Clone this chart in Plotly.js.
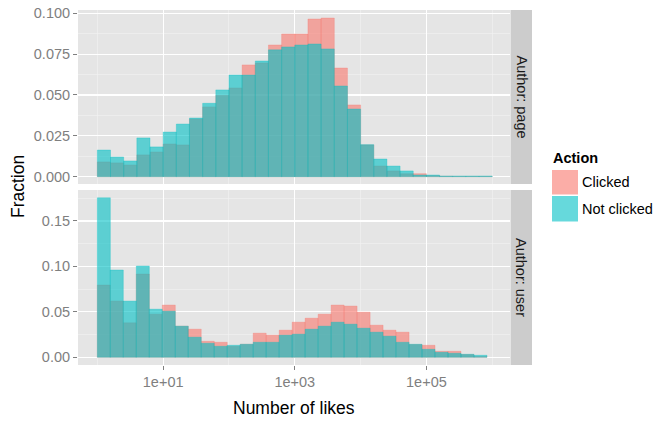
<!DOCTYPE html>
<html>
<head>
<meta charset="utf-8">
<script src="https://cdn.plot.ly/plotly-3.0.1.min.js"></script>
<style>html,body{margin:0;padding:0;background:#fff;}#chart{width:665px;height:421px;}</style>
</head>
<body>
<div id="chart"></div>
<script>
// Bin lower edges, in log10(number of likes)
const pageBins = [0.0,0.2,0.4,0.6,0.8,1.0,1.2,1.4,1.6,1.8,2.0,2.2,2.4,2.6,2.8,3.0,3.2,3.4,3.6,3.8,4.0,4.2,4.4,4.6,4.8,5.0,5.2,5.4,5.6,5.8];
const userBins = [0.000,0.197,0.395,0.592,0.789,0.987,1.184,1.381,1.579,1.776,1.973,2.171,2.368,2.565,2.763,2.960,3.157,3.355,3.552,3.749,3.947,4.144,4.341,4.539,4.736,4.933,5.131,5.328,5.525,5.723];

// Fractions per bin
const pageClicked = [0.0090,0.0084,0.0071,0.0133,0.0151,0.0200,0.0194,0.0353,0.0427,0.0498,0.0543,0.0684,0.0696,0.0806,0.0873,0.0873,0.0965,0.0971,0.0665,0.0439,0.0194,0.0065,0.0035,0.0018,0.0018,0.0006,0.0002,0.0001,0.0001,0.0001];
const pageNotClicked = [0.0163,0.0120,0.0096,0.0237,0.0182,0.0273,0.0322,0.0359,0.0449,0.0531,0.0622,0.0622,0.0708,0.0776,0.0794,0.0806,0.0812,0.0782,0.0555,0.0414,0.0196,0.0108,0.0065,0.0035,0.0010,0.0010,0.0004,0.0004,0.0004,0.0004];
const userClicked = [0.0794,0.0618,0.0379,0.0915,0.0474,0.0574,0.0342,0.0309,0.0176,0.0165,0.0121,0.0143,0.0265,0.0243,0.0298,0.0386,0.0430,0.0474,0.0574,0.0563,0.0496,0.0353,0.0298,0.0276,0.0140,0.0132,0.0066,0.0066,0.0030,0.0007];
const userNotClicked = [0.1754,0.0960,0.0618,0.1004,0.0529,0.0507,0.0342,0.0221,0.0154,0.0121,0.0132,0.0143,0.0165,0.0165,0.0243,0.0254,0.0309,0.0342,0.0386,0.0364,0.0320,0.0276,0.0232,0.0165,0.0143,0.0088,0.0055,0.0044,0.0033,0.0022];

const xTickVals = [1, 3, 5];
const xTickText = ['1e+01', '1e+03', '1e+05'];
const actions = ['Clicked', 'Not clicked'];
const facets = ['Author: page', 'Author: user'];

const RED = 'rgba(248,118,109,0.6)';
const TEAL = 'rgba(0,191,196,0.6)';
const FONT = 'Liberation Sans, Arial, Helvetica, sans-serif';

// pixel -> paper helpers (plot area: x 78..510, y 10..365)
const L = 78, R = 510, T = 10, B = 365;
const px = v => (v - L) / (R - L);
const py = v => (B - v) / (B - T);

function barTrace(bins, vals, w, color, xa, ya, name) {
  return {
    type: 'bar', x: bins, y: vals, width: w, offset: 0,
    xaxis: xa, yaxis: ya, name: name, showlegend: false,
    marker: {color: color, line: {width: 0.5, color: color}},
    hoverinfo: 'skip'
  };
}

const data = [
  barTrace(pageBins, pageClicked, 0.2, RED, 'x', 'y', actions[0]),
  barTrace(pageBins, pageNotClicked, 0.2, TEAL, 'x', 'y', actions[1]),
  barTrace(userBins, userClicked, 0.1973, RED, 'x2', 'y2', actions[0]),
  barTrace(userBins, userNotClicked, 0.1973, TEAL, 'x2', 'y2', actions[1])
];

const xRange = [-0.294, 6.27];
const gridCommon = {showgrid: true, gridcolor: '#FFFFFF', gridwidth: 1.2, zeroline: false, showline: false};
const tickFont = {family: FONT, size: 14.5, color: '#7F7F7F'};

const topDomain = [py(184), 1];
const botDomain = [0, py(190)];

const layout = {
  width: 665, height: 421,
  margin: {l: L, r: 665 - R, t: T, b: 421 - B, pad: 0},
  paper_bgcolor: '#FFFFFF', plot_bgcolor: '#E5E5E5',
  barmode: 'overlay', bargap: 0,
  font: {family: FONT},
  showlegend: false,
  xaxis: Object.assign({}, gridCommon, {
    domain: [0, 1], anchor: 'y', range: xRange,
    tickmode: 'array', tickvals: xTickVals, ticktext: xTickText,
    showticklabels: false, ticks: '',
    minor: {tickmode: 'array', tickvals: [0, 2, 4, 6], showgrid: true, gridcolor: '#F2F2F2', gridwidth: 0.6, ticks: ''}
  }),
  xaxis2: Object.assign({}, gridCommon, {
    domain: [0, 1], anchor: 'y2', range: xRange,
    tickmode: 'array', tickvals: xTickVals, ticktext: xTickText,
    ticks: 'outside', ticklen: 4, tickwidth: 1, tickcolor: '#7F7F7F', tickfont: tickFont,
    minor: {tickmode: 'array', tickvals: [0, 2, 4, 6], showgrid: true, gridcolor: '#F2F2F2', gridwidth: 0.6, ticks: ''}
  }),
  yaxis: Object.assign({}, gridCommon, {
    domain: topDomain, anchor: 'x', range: [-0.0045, 0.102],
    tick0: 0, dtick: 0.025, tickformat: '.3f',
    ticks: 'outside', ticklen: 4, tickwidth: 1, tickcolor: '#7F7F7F', tickfont: tickFont,
    minor: {tick0: 0, dtick: 0.0125, showgrid: true, gridcolor: '#F2F2F2', gridwidth: 0.6, ticks: ''}
  }),
  yaxis2: Object.assign({}, gridCommon, {
    domain: botDomain, anchor: 'x2', range: [-0.0085, 0.184],
    tick0: 0, dtick: 0.05, tickformat: '.2f',
    ticks: 'outside', ticklen: 4, tickwidth: 1, tickcolor: '#7F7F7F', tickfont: tickFont,
    minor: {tick0: 0, dtick: 0.025, showgrid: true, gridcolor: '#F2F2F2', gridwidth: 0.6, ticks: ''}
  }),
  shapes: [
    // facet strips
    {type: 'rect', xref: 'paper', yref: 'paper', x0: px(510.5), x1: px(532), y0: topDomain[0], y1: topDomain[1], fillcolor: '#CCCCCC', line: {width: 0}},
    {type: 'rect', xref: 'paper', yref: 'paper', x0: px(510.5), x1: px(532), y0: botDomain[0], y1: botDomain[1], fillcolor: '#CCCCCC', line: {width: 0}},
    // legend keys
    {type: 'rect', xref: 'paper', yref: 'paper', x0: px(552), x1: px(578), y0: py(194.5), y1: py(170), fillcolor: RED, line: {width: 0}},
    {type: 'rect', xref: 'paper', yref: 'paper', x0: px(552), x1: px(578), y0: py(221.5), y1: py(196), fillcolor: TEAL, line: {width: 0}}
  ],
  annotations: [
    {xref: 'paper', yref: 'paper', x: px(521.5), y: (topDomain[0] + topDomain[1]) / 2, text: facets[0], textangle: 90, showarrow: false, xanchor: 'center', yanchor: 'middle', font: {family: FONT, size: 14.5, color: '#1A1A1A'}},
    {xref: 'paper', yref: 'paper', x: px(521.5), y: (botDomain[0] + botDomain[1]) / 2, text: facets[1], textangle: 90, showarrow: false, xanchor: 'center', yanchor: 'middle', font: {family: FONT, size: 14.5, color: '#1A1A1A'}},
    {xref: 'paper', yref: 'paper', x: 0.5, y: py(408), text: 'Number of likes', showarrow: false, xanchor: 'center', yanchor: 'middle', font: {family: FONT, size: 17.5, color: '#000000'}},
    {xref: 'paper', yref: 'paper', x: px(18), y: py(187), text: 'Fraction', textangle: -90, showarrow: false, xanchor: 'center', yanchor: 'middle', font: {family: FONT, size: 17.5, color: '#000000'}},
    {xref: 'paper', yref: 'paper', x: px(551), y: py(158), text: '<b>Action</b>', showarrow: false, xanchor: 'left', yanchor: 'middle', font: {family: FONT, size: 14.5, color: '#000000'}},
    {xref: 'paper', yref: 'paper', x: px(580), y: py(182), text: actions[0], showarrow: false, xanchor: 'left', yanchor: 'middle', font: {family: FONT, size: 14.5, color: '#000000'}},
    {xref: 'paper', yref: 'paper', x: px(580), y: py(209), text: actions[1], showarrow: false, xanchor: 'left', yanchor: 'middle', font: {family: FONT, size: 14.5, color: '#000000'}}
  ]
};

Plotly.newPlot('chart', data, layout, {staticPlot: true, displayModeBar: false});
</script>
</body>
</html>
